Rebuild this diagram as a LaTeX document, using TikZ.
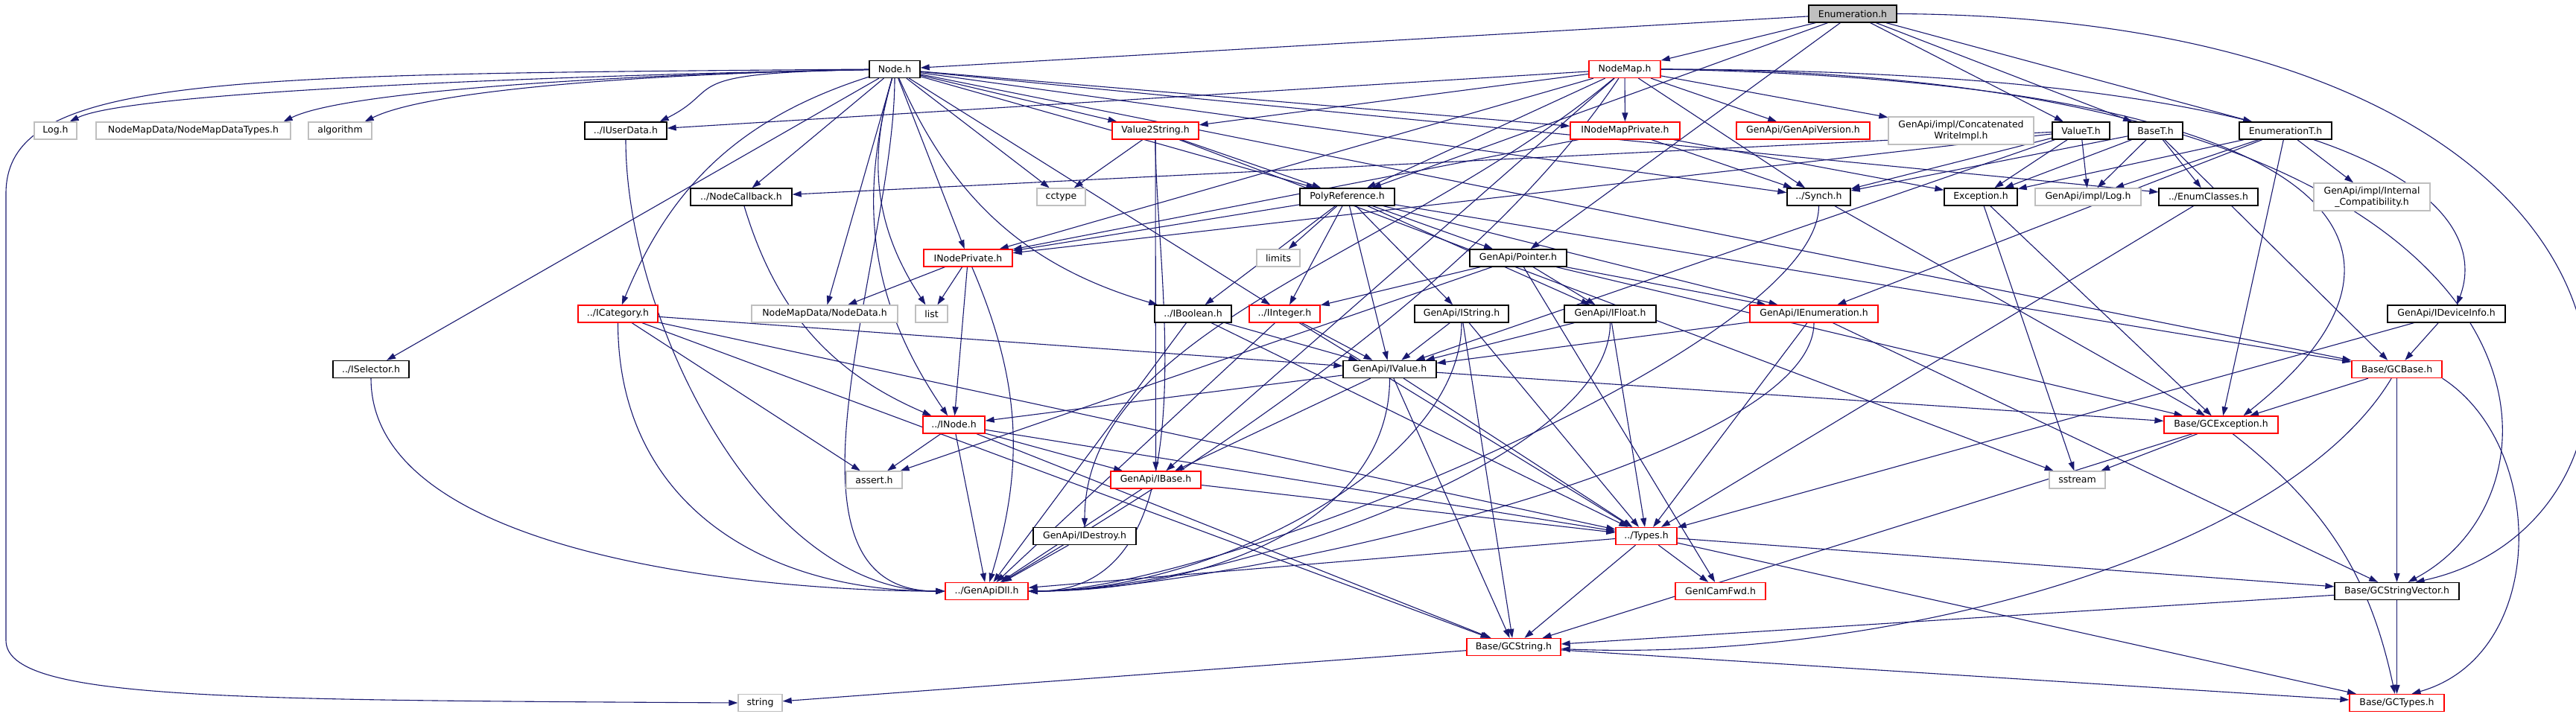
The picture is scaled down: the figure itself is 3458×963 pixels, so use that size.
\documentclass[tikz,border=0pt]{standalone}
\usepackage{fontspec}
\setmainfont{DejaVu Sans}
\usepackage{xcolor}
\usepackage{tikz}
\usetikzlibrary{arrows.meta, backgrounds}
\definecolor{depblue}{HTML}{191970}
\definecolor{truncred}{HTML}{FF0000}
\definecolor{extgray}{HTML}{BFBFBF}
\tikzset{
    hdr/.style = {inner sep=0pt, text centered, minimum height=23pt,
        fill=white, line width=1.3pt, font=\fontsize{12.5}{14.5}\selectfont},
    doc_hdr/.style = {hdr, draw=black},
    trunc_hdr/.style = {hdr, draw=truncred},
    sys_hdr/.style = {hdr, draw=extgray},
    root_hdr/.style = {hdr, draw=black, fill=extgray},
    two_line/.style = {align=center, minimum height=37pt},
    dep/.style = {draw=depblue, line width=1.1pt},
}

\begin{document}
\begin{tikzpicture}[->,>={Triangle[length=12pt,width=8pt]},x=1pt,y=1pt]
        \useasboundingbox (0,0) rectangle (3458,-963);
        \node [root_hdr, minimum width=118pt] (enumh) at (2487,-18.5) {Enumeration.h};
        \node [doc_hdr, minimum width=68pt] (nodeh) at (1201,-93) {Node.h};
        \node [trunc_hdr, minimum width=96pt] (nodemap) at (2181,-93) {NodeMap.h};

        \node [sys_hdr, minimum width=57pt] (logh) at (74.5,-175.5) {Log.h};
        \node [sys_hdr, minimum width=261pt] (nmdtypes) at (259.5,-175.5) {NodeMapData/NodeMapDataTypes.h};
        \node [sys_hdr, minimum width=85pt] (algoh) at (456.5,-175.5) {algorithm};
        \node [doc_hdr, minimum width=110pt] (iuserdata) at (840,-175.5) {../IUserData.h};
        \node [trunc_hdr, minimum width=116pt] (val2str) at (1551,-175.5) {Value2String.h};
        \node [trunc_hdr, minimum width=147pt] (inmappriv) at (2181.5,-175.5) {INodeMapPrivate.h};
        \node [trunc_hdr, minimum width=179pt] (apiversion) at (2420.5,-175.5) {GenApi/GenApiVersion.h};
        \node [sys_hdr, two_line, minimum width=195pt] (concatwr) at (2632.5,-175.5) {GenApi/impl/Concatenated\\WriteImpl.h};
        \node [doc_hdr, minimum width=77pt] (valuet) at (2793.5,-175.5) {ValueT.h};
        \node [doc_hdr, minimum width=73pt] (baset) at (2893.5,-175.5) {BaseT.h};
        \node [doc_hdr, minimum width=124pt] (enumt) at (3068,-175.5) {EnumerationT.h};

        \node [doc_hdr, minimum width=136pt] (nodecb) at (995,-264.5) {../NodeCallback.h};
        \node [sys_hdr, minimum width=65pt] (cctypeh) at (1424.5,-264.5) {cctype};
        \node [doc_hdr, minimum width=127pt] (polyref) at (1808.5,-264.5) {PolyReference.h};
        \node [doc_hdr, minimum width=85pt] (synch) at (2441.5,-264.5) {../Synch.h};
        \node [doc_hdr, minimum width=98pt] (exch) at (2659,-264.5) {Exception.h};
        \node [sys_hdr, minimum width=142pt] (impllog) at (2803,-264.5) {GenApi/impl/Log.h};
        \node [doc_hdr, minimum width=133pt] (enumcls) at (2964.5,-264.5) {../EnumClasses.h};
        \node [sys_hdr, two_line, minimum width=156pt] (compat) at (3184,-264.5) {GenApi/impl/Internal\\\_Compatibility.h};

        \node [trunc_hdr, minimum width=119pt] (inodepriv) at (1299.5,-346.5) {INodePrivate.h};
        \node [sys_hdr, minimum width=58pt] (limitsh) at (1716,-346.5) {limits};
        \node [doc_hdr, minimum width=130pt] (pointer) at (2038,-346.5) {GenApi/Pointer.h};

        \node [trunc_hdr, minimum width=107pt] (icat) at (829.5,-421.5) {../ICategory.h};
        \node [sys_hdr, minimum width=196pt] (nodedata) at (1107,-421.5) {NodeMapData/NodeData.h};
        \node [sys_hdr, minimum width=43pt] (listh) at (1250.5,-421.5) {list};
        \node [doc_hdr, minimum width=103pt] (ibool) at (1601.5,-421.5) {../IBoolean.h};
        \node [trunc_hdr, minimum width=95pt] (iint) at (1724.5,-421.5) {../IInteger.h};
        \node [doc_hdr, minimum width=126pt] (istr) at (1962,-421.5) {GenApi/IString.h};
        \node [doc_hdr, minimum width=123pt] (ifloat) at (2161.5,-421.5) {GenApi/IFloat.h};
        \node [trunc_hdr, minimum width=172pt] (ienum) at (2435,-421.5) {GenApi/IEnumeration.h};
        \node [doc_hdr, minimum width=158pt] (idevinfo) at (3284,-421.5) {GenApi/IDeviceInfo.h};

        \node [doc_hdr, minimum width=102pt] (isel) at (498,-496) {../ISelector.h};
        \node [doc_hdr, minimum width=125pt] (ivalue) at (1865.5,-496) {GenApi/IValue.h};
        \node [trunc_hdr, minimum width=121pt] (gcbase) at (3217.5,-496) {Base/GCBase.h};

        \node [trunc_hdr, minimum width=83pt] (inode) at (1280.5,-570.5) {../INode.h};
        \node [trunc_hdr, minimum width=153pt] (gcexc) at (2981.5,-570.5) {Base/GCException.h};

        \node [sys_hdr, minimum width=75pt] (asserth) at (1173.5,-644.5) {assert.h};
        \node [trunc_hdr, minimum width=121pt] (ibase) at (1551.5,-644.5) {GenApi/IBase.h};
        \node [sys_hdr, minimum width=75pt] (sstreamh) at (2788.5,-644.5) {sstream};

        \node [doc_hdr, minimum width=138pt] (idestroy) at (1456,-720) {GenApi/IDestroy.h};
        \node [trunc_hdr, minimum width=82pt] (types) at (2210,-720) {../Types.h};

        \node [trunc_hdr, minimum width=111pt] (apidll) at (1324.5,-794) {../GenApiDll.h};
        \node [trunc_hdr, minimum width=121pt] (camfwd) at (2309.5,-794) {GenICamFwd.h};
        \node [doc_hdr, minimum width=167pt] (gcstrvec) at (3217.5,-794) {Base/GCStringVector.h};

        \node [trunc_hdr, minimum width=126pt] (gcstr) at (2032,-869) {Base/GCString.h};

        \node [sys_hdr, minimum width=59pt] (stringh) at (1020.5,-944) {string};
        \node [trunc_hdr, minimum width=127pt] (gctypes) at (3217.5,-944) {Base/GCTypes.h};

        \coordinate (lft_top) at (8,-260);
        \coordinate (lft_bot) at (8,-860);

        \begin{pgfonlayer}{background}
        \fill [white, -] (0,0) rectangle (3458,-963);
        \foreach \a/\b in {enumh/nodeh, enumh/nodemap, enumh/polyref, enumh/pointer, enumh/valuet, enumh/baset, enumh/enumt,
            nodeh/val2str, nodeh/inmappriv, nodeh/nodecb,
            nodeh/cctypeh, nodeh/polyref, nodeh/synch, nodeh/inodepriv, nodeh/nodedata, nodeh/iint, nodeh/isel,
            nodeh/enumcls, nodeh/gcbase,
            nodemap/iuserdata, nodemap/val2str, nodemap/inmappriv, nodemap/apiversion, nodemap/concatwr, nodemap/inodepriv,
            nodemap/polyref, nodemap/synch, nodemap/ibase,
            valuet/exch, valuet/impllog, valuet/synch, valuet/inodepriv, valuet/nodecb, valuet/ivalue,
            baset/exch, baset/impllog, baset/enumcls, baset/synch, baset/gcbase,
            enumt/ienum, enumt/impllog, enumt/compat, enumt/exch, enumt/gcexc,
            inmappriv/inodepriv, inmappriv/synch, inmappriv/exch,
            val2str/cctypeh, val2str/polyref, val2str/ibase, val2str/sstreamh,
            polyref/inodepriv, polyref/limitsh, polyref/pointer, polyref/ibool, polyref/iint, polyref/istr,
            polyref/ifloat, polyref/ivalue, polyref/ienum, polyref/gcbase,
            inodepriv/nodedata, inodepriv/listh, inodepriv/inode,
            synch/gcexc, exch/gcexc, exch/sstreamh, enumcls/types,
            pointer/iint, pointer/ifloat, pointer/ienum, pointer/asserth, pointer/camfwd, pointer/gcexc,
            icat/asserth, icat/ivalue, icat/types, icat/gcstr,
            ibool/ivalue, ibool/types, ibool/apidll, iint/ivalue, iint/types, iint/apidll,
            istr/ivalue, istr/types, istr/gcstr, ifloat/ivalue, ifloat/types,
            ienum/ivalue, ienum/types, ienum/gcstrvec, idevinfo/gcbase, idevinfo/types,
            ivalue/inode, ivalue/ibase, ivalue/types, ivalue/gcstr, ivalue/gcexc,
            gcbase/gcexc, gcbase/gcstrvec, inode/asserth, inode/ibase, inode/apidll, inode/types, inode/gcstr,
            gcexc/sstreamh, gcexc/gcstr, ibase/apidll, ibase/types, idestroy/apidll,
            types/apidll, types/camfwd, types/gcstr, types/gctypes, types/gcstrvec,
            gcstrvec/gcstr, gcstrvec/gctypes, gcstr/stringh, gcstr/gctypes}
            \draw [dep] (\a) -- (\b);
        \foreach \b in {logh, nmdtypes, algoh, iuserdata}
            \draw [dep] (nodeh) .. controls +(-300,-5) and +(90,45) .. ([xshift=-10pt]\b.north east);
        \foreach \a in {nodeh, iuserdata, isel, icat}
            \draw [dep] (\a) .. controls +(0,-250) and +(-250,0) .. (apidll.west);
        \foreach \a in {val2str, synch, istr, ifloat, ienum, ivalue}
            \draw [dep] (\a) .. controls +(0,-200) and +(250,0) .. (apidll.east);
        \foreach \a/\b in {nodeh/icat, nodeh/listh, nodeh/ibool, nodeh/inode, nodecb/inode}
            \draw [dep] (\a) to[bend right=25] (\b);
        \foreach \a/\b in {inodepriv/apidll, gcexc/gctypes}
            \draw [dep] (\a) to[bend left=20] (\b);
        \draw [dep] (gcbase) .. controls +(-150,-250) and +(500,-20) .. (gcstr);
        \draw [dep] (nodemap) .. controls +(-300,-250) and +(0,280) .. (idestroy);
        \draw [dep] (nodemap) .. controls +(-200,-300) and +(250,150) .. (apidll);
        \draw [dep] (nodeh.west) .. controls (300,-100) and (8,-100) .. (lft_top) -- (lft_bot)
            .. controls (8,-940) and (300,-940) .. (stringh.west);
        \draw [dep] (enumh.east) .. controls (3620,-25) and (3620,-700) .. ([xshift=25pt]gcstrvec.north);
        \draw [dep] (nodemap.east) .. controls (3450,-95) and (3480,-650) .. ([xshift=15pt]gcstrvec.north);
        \draw [dep] (nodemap.east) .. controls (3250,-95) and (3340,-300) .. ([xshift=14pt]idevinfo.north);
        \draw [dep] (nodemap.east) .. controls (3150,-110) and (3300,-330) .. ([xshift=30pt]gcexc.north);
        \draw [dep] (gcbase.south east) .. controls (3420,-600) and (3420,-880) .. ([xshift=20pt]gctypes.north);
        \end{pgfonlayer}
        \end{tikzpicture}
\end{document}
